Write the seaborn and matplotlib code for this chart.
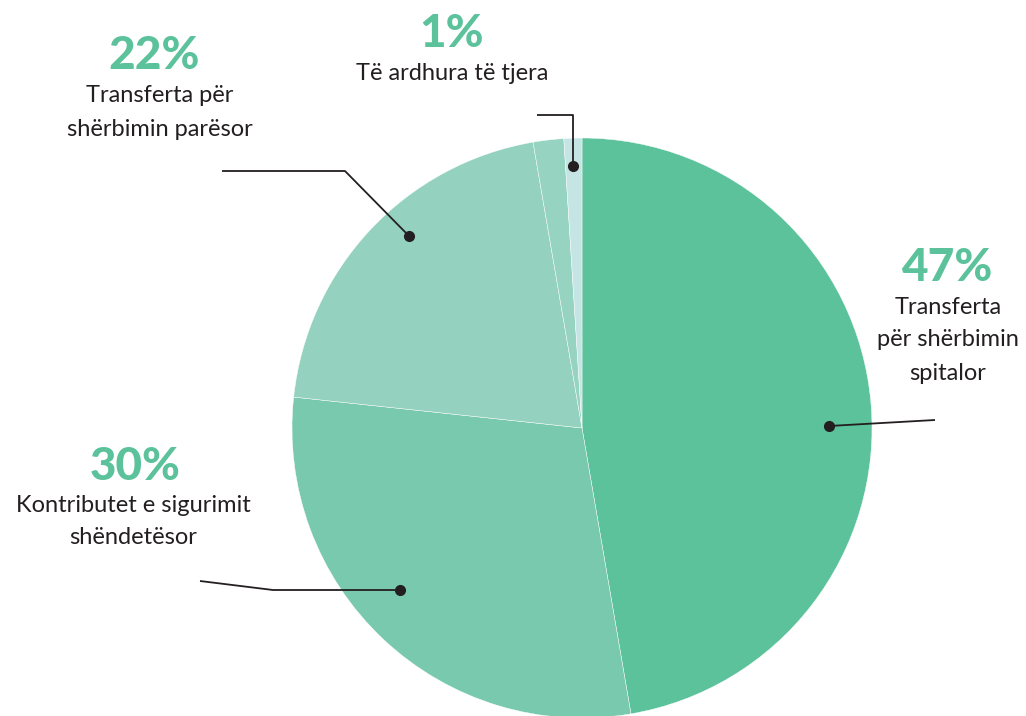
import matplotlib
matplotlib.use("Agg")
import matplotlib.pyplot as plt
import seaborn as sns

# Data
categories = ["Transferta për shërbimin spitalor",
              "Kontributet e sigurimit shëndetësor",
              "Transferta për shërbimin parësor",
              "Transferta për shërbimin parësor (pjesë)",
              "Të ardhura të tjera"]
values = [47.3, 29.4, 20.6, 1.7, 1.0]
pct_labels = ["47%", "30%", "22%", "1%"]
text_labels = [["Transferta", "për shërbimin", "spitalor"],
               ["Kontributet e sigurimit", "shëndetësor"],
               ["Transferta për", "shërbimin parësor"],
               ["Të ardhura të tjera"]]
colors = ["#5BC29B", "#78C9AD", "#94D2BF", "#97D3C1", "#C4E5E4"]

sns.set_theme(style="white")
plt.rcParams['font.family'] = ['Lato', 'DejaVu Sans']

W, H = 1026, 716
fig = plt.figure(figsize=(W / 100, H / 100), dpi=100)
ax = fig.add_axes([0, 0, 1, 1])

def P(x, y):
    return x, H - y

cx, cy = P(582, 428)
ax.pie(values, colors=colors, startangle=90, counterclock=False,
       center=(cx, cy), radius=290,
       wedgeprops=dict(edgecolor="white", linewidth=0.3))
ax.set_xlim(0, W)
ax.set_ylim(0, H)
ax.set_aspect("equal")
ax.axis("off")

green = "#5BC29B"
dark = "#231F20"

# leader lines (layout)
leaders = [
    [(829, 426), (935, 420)],
    [(400, 590), (273, 590), (200, 581)],
    [(409, 236), (345, 171), (222, 171)],
    [(573, 166), (573, 115), (537, 115)],
]
for pts in leaders:
    xs, ys = zip(*[P(*p) for p in pts])
    ax.plot(xs, ys, color=dark, lw=1.3, solid_capstyle="butt")
    ax.plot(xs[0], ys[0], "o", color=dark, ms=7)

pct_pos = [(948, 268), (135, 467), (154, 56), (452, 34)]
txt_pos = [(948, 307), (133, 505), (160, 96), (452, 73)]
line_gap = 33
for pl, (px, py) in zip(pct_labels, pct_pos):
    ax.text(*P(px, py), pl, color=green, fontsize=33, fontweight=900,
            ha="center", va="center")
for lines, (tx, ty) in zip(text_labels, txt_pos):
    for i, ln in enumerate(lines):
        ax.text(*P(tx, ty + i * line_gap), ln, color=dark, fontsize=17,
                ha="center", va="center")

fig.savefig("out.png", dpi=100)
